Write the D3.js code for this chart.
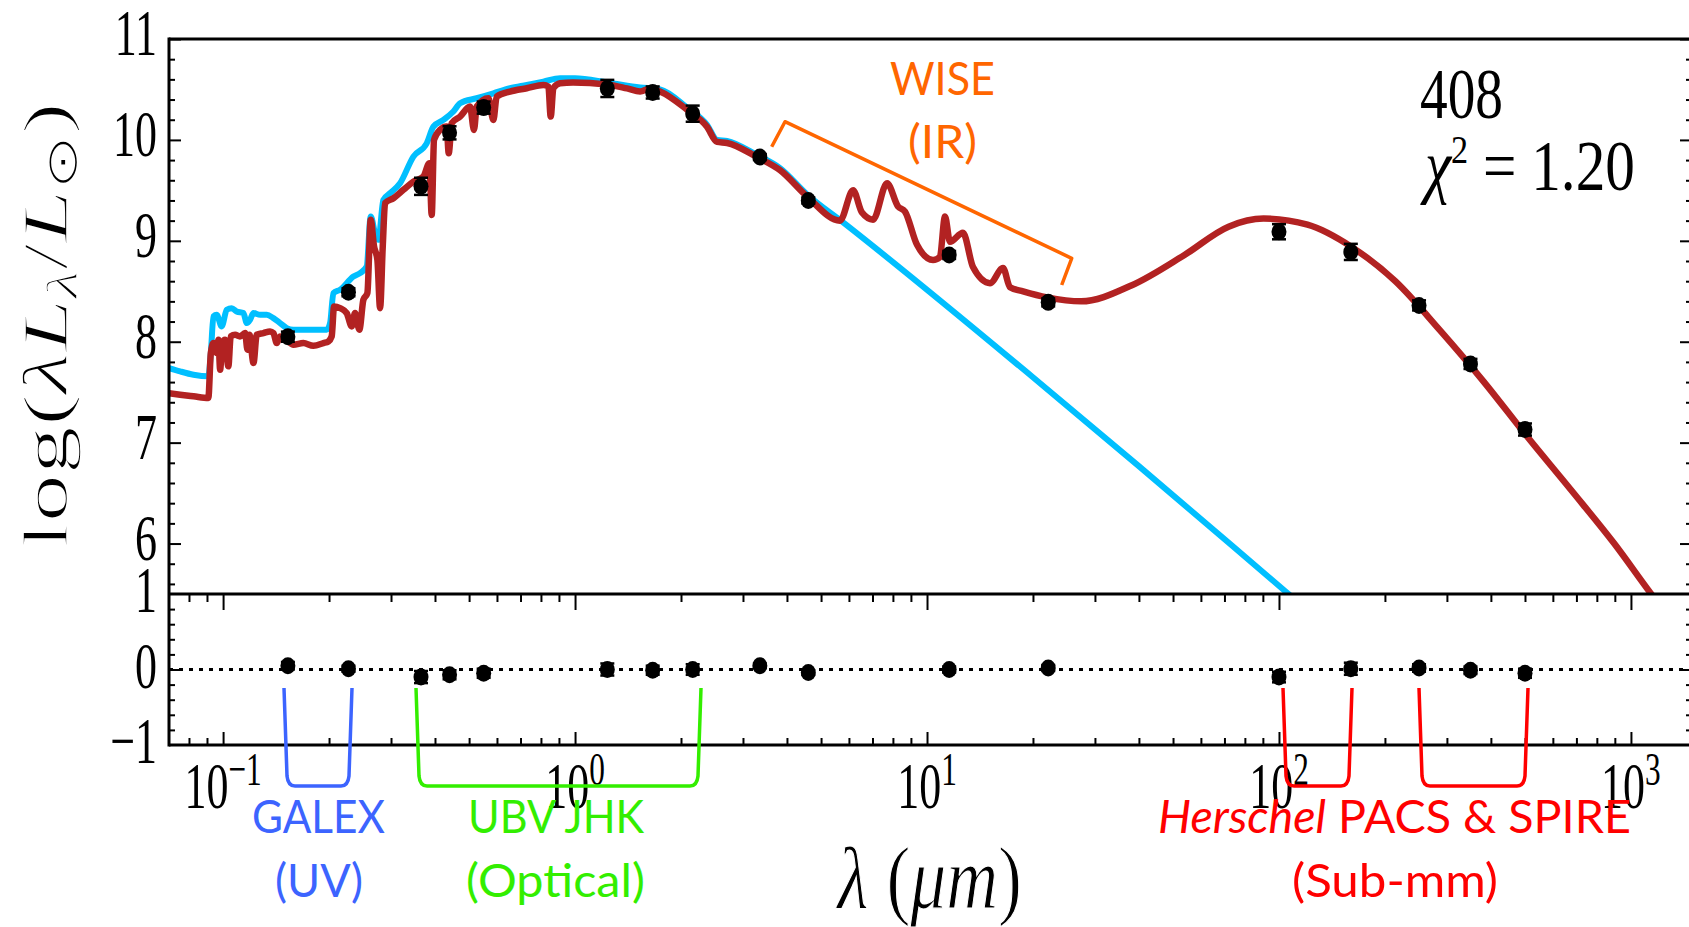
<!DOCTYPE html>
<html><head><meta charset="utf-8">
<script src="https://cdn.jsdelivr.net/npm/d3@7"></script>
<style>html,body{margin:0;padding:0;background:#fff;overflow:hidden}</style>
</head><body><svg id="c" width="1689" height="927" xmlns="http://www.w3.org/2000/svg"></svg>
<script>
// ---------------- DATA ----------------
const bands = ["FUV","NUV","U","B","V","J","H","Ks","W1","W2","W3","W4","PACS100","PACS160","SPIRE250","SPIRE350","SPIRE500"];
const bandWave = [0.1528,0.2271,0.365,0.44,0.55,1.235,1.662,2.159,3.35,4.6,11.56,22.1,100,160,250,350,500];
const obsLum   = [8.05,8.49,9.54,10.07,10.32,10.51,10.47,10.26,9.83,9.40,8.86,8.39,9.09,8.89,8.36,7.78,7.13];
const obsErr   = [0.05,0.04,0.085,0.065,0.06,0.085,0.06,0.08,0.03,0.03,0.04,0.04,0.075,0.08,0.05,0.05,0.06];
const residual = [0.05,0.01,-0.10,-0.07,-0.05,0.0,-0.01,0.0,0.05,-0.04,0.0,0.02,-0.10,0.01,0.02,-0.01,-0.05];
const resErr   = [0.05,0.04,0.08,0.06,0.06,0.08,0.06,0.07,0.03,0.03,0.04,0.04,0.07,0.08,0.05,0.05,0.06];

// total model (stars + dust), wavelength in micron, log(lambda L_lambda / Lsun)
const modelWave = [0.0702,0.0755,0.0824,0.0908,0.0923,0.0939,0.0959,0.0970,0.0981,0.0994,0.1013,0.1035,0.1051,0.1082,0.1117,0.1155,0.1173,0.1188,0.1220,0.1246,0.1302,0.1360,0.1390,0.1421,0.1452,0.1517,0.1584,0.1691,0.1805,0.1928,0.1991,0.2035,0.2067,0.2150,0.2245,0.2320,0.2371,0.2439,0.2504,0.2570,0.2627,0.2685,0.2744,0.2793,0.2842,0.2886,0.3047,0.3253,0.3473,0.3708,0.3857,0.3915,0.3975,0.4134,0.4318,0.4376,0.4462,0.4713,0.5031,0.5163,0.5254,0.5672,0.5861,0.5989,0.6536,0.7291,0.8128,0.8400,0.8528,0.8677,0.9066,0.987,1.233,1.405,1.530,1.634,1.744,2.080,2.371,2.532,2.703,3.289,3.823,4.561,5.658,6.164,6.535,7.025,7.699,8.273,8.659,9.367,10.40,10.88,11.25,11.62,12.65,13.51,15.10,16.44,17.21,18.75,21.93,27.4,38.2,53.9,71.9,90.4,120.5,160.7,214,285.6,380.5,507,676,901,1136,1250];
const modelLum  = [7.49,7.475,7.459,7.442,7.888,7.987,7.888,8.020,7.723,7.987,8.020,7.756,8.053,8.069,8.053,8.086,7.921,8.069,7.789,8.069,8.086,8.102,8.086,7.987,8.053,8.020,7.970,7.987,7.960,7.987,8.003,8.053,8.350,8.333,8.284,8.152,8.284,8.119,8.416,8.482,9.208,8.944,8.812,8.333,8.944,9.373,9.422,9.505,9.587,9.637,9.769,9.257,10.0,10.099,10.132,9.868,10.165,10.231,10.330,10.099,10.330,10.413,10.198,10.429,10.479,10.512,10.545,10.528,10.231,10.512,10.561,10.57,10.55,10.51,10.48,10.51,10.48,10.30,10.13,9.98,9.97,9.83,9.70,9.44,9.20,9.50,9.28,9.21,9.57,9.34,9.29,8.96,8.81,8.84,9.24,8.99,9.08,8.74,8.58,8.73,8.54,8.50,8.44,8.40,8.56,8.86,9.14,9.22,9.16,8.94,8.60,8.12,7.61,7.06,6.53,5.99,5.51,5.32];

// unattenuated / stellar-only model
const starWave = [0.0702,0.0755,0.0824,0.0908,0.0923,0.0939,0.0959,0.0991,0.1024,0.1058,0.1093,0.1142,0.1168,0.1193,0.1220,0.1274,0.1331,0.1390,0.1452,0.1517,0.1584,0.1767,0.1970,0.2014,0.2058,0.2150,0.2346,0.2450,0.2559,0.2627,0.2703,0.2762,0.2854,0.2981,0.3183,0.3473,0.3790,0.3958,0.4224,0.4511,0.4713,0.5254,0.5861,0.6536,0.7291,0.8128,0.9066,1.0,1.233,1.530,1.744,2.080,2.371,2.532,2.703,3.289,3.823,4.561,5.74,19.8,39.9,104,115];
const starLum  = [7.739,7.706,7.673,7.657,7.888,8.251,8.267,8.152,8.317,8.333,8.300,8.284,8.185,8.218,8.284,8.267,8.267,8.234,8.185,8.135,8.119,8.119,8.119,8.185,8.482,8.515,8.647,8.680,8.746,9.241,9.076,9.010,9.406,9.472,9.571,9.835,9.967,10.132,10.198,10.281,10.363,10.413,10.462,10.512,10.545,10.578,10.611,10.61,10.57,10.52,10.50,10.32,10.15,10.00,9.99,9.85,9.72,9.46,9.19,7.66,6.77,5.53,5.40];

const mainYTicks = [6,7,8,9,10,11];
const mainYTickLabels = ["6","7","8","9","10","11"];
const resYTicks = [-1,0,1];
const resYTickLabels = ["\u22121","0","1"];
const xTickValues = [0.1,1,10,100,1000];
const xTickExps = ["\u22121","0","1","2","3"];

const galaxyId = "408";
const chi2Text = "1.20";

// ---------------- LAYOUT ----------------
const L = 169, R = 1692, TOP = 39, SPLIT = 594, BOT = 745;
const x = d3.scaleLog().domain([0.0702, 1491]).range([L, R]);
const y = d3.scaleLinear().domain([5.5, 11]).range([SPLIT, TOP]);
const yr = d3.scaleLinear().domain([-1, 1]).range([BOT, SPLIT]);

const serif = "'Liberation Serif','Times New Roman',serif";
const sans = "Lato,'Open Sans',sans-serif";
const svg = d3.select('#c');
const defs = svg.append('defs');
defs.append('clipPath').attr('id','clipMain').append('rect')
  .attr('x', L).attr('y', TOP).attr('width', R - L).attr('height', SPLIT - TOP);

// ---- curves ----
const line = d3.line().x(d => x(d[0])).y(d => y(d[1])).curve(d3.curveMonotoneX);
const starData = starWave.map((w,i)=>[w, starLum[i]]);
const modelData = modelWave.map((w,i)=>[w, modelLum[i]]);
const gc = svg.append('g').attr('clip-path','url(#clipMain)');
gc.append('path').datum(starData).attr('d', line).attr('fill','none')
  .attr('stroke','#00bfff').attr('stroke-width',6).attr('stroke-linejoin','round');
gc.append('path').datum(modelData).attr('d', line).attr('fill','none')
  .attr('stroke','#b22222').attr('stroke-width',6.5).attr('stroke-linejoin','round');

// ---- observed points ----
const obs = bandWave.map((w,i)=>({w, v:obsLum[i], e:obsErr[i], r:residual[i], re:resErr[i]}));
const gp = svg.append('g');
function errBars(g, data, yScale, valKey, errKey){
  data.forEach(d=>{
    const cx = x(d.w), y1 = yScale(d[valKey]-d[errKey]), y2 = yScale(d[valKey]+d[errKey]);
    g.append('line').attr('x1',cx).attr('x2',cx).attr('y1',y1).attr('y2',y2).attr('stroke','#000').attr('stroke-width',2.5);
    [y1,y2].forEach(yy=>g.append('line').attr('x1',cx-7).attr('x2',cx+7).attr('y1',yy).attr('y2',yy).attr('stroke','#000').attr('stroke-width',2.5));
  });
  g.selectAll(null).data(data).enter().append('ellipse')
    .attr('cx', d=>x(d.w)).attr('cy', d=>yScale(d[valKey])).attr('rx',7.5).attr('ry',8.5).attr('fill','#000');
}
errBars(gp, obs, y, 'v', 'e');

// ---- residual zero line ----
svg.append('line').attr('x1',L).attr('x2',R).attr('y1',yr(0)).attr('y2',yr(0))
  .attr('stroke','#000').attr('stroke-width',3).attr('stroke-dasharray','4,6');
errBars(svg.append('g'), obs, yr, 'r', 're');

// ---- axes (ticks via d3 axes) ----
const xAll = x.ticks();
const xMajor = xAll.filter(t => Math.abs(Math.log10(t) - Math.round(Math.log10(t))) < 1e-9);
const xMinor = xAll.filter(t => !xMajor.includes(t));
function ax(axisFn, scale, vals, size, tr){
  const g = svg.append('g').attr('transform', tr)
    .call(axisFn(scale).tickValues(vals).tickSize(size).tickFormat(''));
  g.select('.domain').remove();
  g.selectAll('line').attr('stroke','#000').attr('stroke-width',2);
  g.selectAll('text').remove();
}
const yMinor = d3.range(56, 110, 2).map(v=>v/10).filter(v=>!mainYTicks.includes(v));
const rMinor = d3.range(-8, 10, 2).map(v=>v/10).filter(v=>!resYTicks.includes(v));
ax(d3.axisRight, y, mainYTicks, 12, `translate(${L},0)`);
ax(d3.axisRight, y, yMinor, 6, `translate(${L},0)`);
ax(d3.axisLeft, y, mainYTicks, 12, `translate(${R},0)`);
ax(d3.axisLeft, y, yMinor, 6, `translate(${R},0)`);
ax(d3.axisRight, yr, [0], 13, `translate(${L},0)`);
ax(d3.axisRight, yr, rMinor, 6, `translate(${L},0)`);
ax(d3.axisLeft, yr, [0], 13, `translate(${R},0)`);
ax(d3.axisLeft, yr, rMinor, 6, `translate(${R},0)`);
ax(d3.axisTop, x, xMajor, 13, `translate(0,${BOT})`);
ax(d3.axisTop, x, xMinor, 7, `translate(0,${BOT})`);
ax(d3.axisBottom, x, xMajor, 16, `translate(0,${SPLIT})`);
ax(d3.axisBottom, x, xMinor, 8, `translate(0,${SPLIT})`);

// frame
const frame = svg.append('g').attr('stroke','#000').attr('stroke-width',3).attr('fill','none');
frame.append('line').attr('x1',L).attr('x2',R+2).attr('y1',TOP).attr('y2',TOP);
frame.append('line').attr('x1',L).attr('x2',R+2).attr('y1',SPLIT).attr('y2',SPLIT);
frame.append('line').attr('x1',L).attr('x2',R+2).attr('y1',BOT).attr('y2',BOT);
frame.append('line').attr('x1',L).attr('x2',L).attr('y1',TOP-1.5).attr('y2',BOT+1.5);
frame.append('line').attr('x1',R).attr('x2',R).attr('y1',TOP).attr('y2',BOT);

// ---- text helpers ----
function fitText(x0, x1, baseline, opts, build){
  const g = svg.append('g');
  const t = g.append('text').attr('x',0).attr('y',0)
    .style('font-family', opts.family).style('font-size', opts.size+'px')
    .attr('fill', opts.fill || '#000');
  if (opts.italic) t.style('font-style','italic');
  if (opts.thin) t.attr('stroke','#fff').attr('stroke-width',opts.thin);
  build(t);
  const bb = t.node().getBBox();
  const s = (x1 - x0) / bb.width;
  t.attr('transform', `translate(${-bb.x*s},0) scale(${s},1)`);
  g.attr('transform', `translate(${x0},${baseline})`);
  return g;
}
// tick label horizontal compression
const probe = svg.append('text').style('font-family',serif).style('font-size','66px').text('10');
const tsx = 44 / probe.node().getBBox().width;
probe.remove();
function tickText(xx, yy, anchor, build){
  const g = svg.append('g').attr('transform',`translate(${xx},${yy}) scale(${tsx},1)`);
  const t = g.append('text').attr('text-anchor',anchor).style('font-family',serif).style('font-size','66px').attr('fill','#000');
  build(t);
}
mainYTicks.forEach((v,i)=> tickText(157, y(v)+16, 'end', t=>t.text(mainYTickLabels[i])));
resYTicks.forEach((v,i)=> tickText(157, yr(v)+18, 'end', t=>t.text(resYTickLabels[i])));
xTickValues.forEach((v,i)=> tickText(x(v), 808, 'middle', t=>{
  t.append('tspan').text('10');
  t.append('tspan').attr('dy',-23).style('font-size','47px').text(xTickExps[i]);
}));

// axis titles
(function(){
  const g = svg.append('g').attr('transform','translate(67,549) rotate(-90)');
  const t = g.append('text').style('font-family',serif).style('font-size','64px').attr('fill','#000')
    .attr('stroke','#fff').attr('stroke-width',1.6);
  t.append('tspan').text('log(');
  t.append('tspan').style('font-style','italic').text('\u03BBL');
  t.append('tspan').style('font-style','italic').style('font-size','44px').attr('dy',10).text('\u03BB');
  t.append('tspan').attr('dy',-10).text('/');
  t.append('tspan').style('font-style','italic').text('L');
  t.append('tspan').style('font-size','44px').attr('dy',10).text('\u2299');
  t.append('tspan').attr('dy',-10).text(')');
  const bb = t.node().getBBox();
  const s = 447 / bb.width;
  t.attr('transform', `translate(${-bb.x*s},0) scale(${s},1)`);
})();
fitText(835, 1022, 908, {family:serif, size:88, thin:1.2}, t=>{
  t.append('tspan').style('font-style','italic').text('\u03BB');
  t.append('tspan').text(' (');
  t.append('tspan').style('font-style','italic').text('\u03BCm');
  t.append('tspan').text(')');
});

// id & chi2
fitText(1420, 1503, 118, {family:serif, size:71}, t=>t.text(galaxyId));
fitText(1420, 1635, 190, {family:serif, size:71}, t=>{
  t.append('tspan').style('font-style','italic').text('\u03C7');
  t.append('tspan').attr('dy',-27).style('font-size','41px').text('2');
  t.append('tspan').attr('dy',27).text(' = ' + chi2Text);
});

// ---- annotations ----
const ann = svg.append('g').attr('fill','none').attr('stroke-width',3.5).attr('stroke-linejoin','round');
const cBlue = '#3c64ff', cGreen = '#33ee00', cOrange = '#ff6600', cRed = '#ff0000';
function bracket(xl, xr, color){
  const top = 688, bot = 786;
  ann.append('path').attr('stroke', color)
    .attr('d', `M${xl},${top} L${xl+3},${bot-10} Q${xl+4},${bot} ${xl+11},${bot} L${xr-11},${bot} Q${xr-4},${bot} ${xr-3},${bot-10} L${xr},${top}`);
}
bracket(284, 352, cBlue);
bracket(416, 701, cGreen);
bracket(1283, 1352, cRed);
bracket(1419, 1528, cRed);
ann.append('path').attr('stroke', cOrange).attr('d','M771.7,146.7 L785,121.7 L1071.7,258.3 L1061.7,285');

fitText(890, 995, 95, {family:sans, size:47, fill:cOrange}, t=>t.text('WISE'));
fitText(908, 977, 158, {family:sans, size:47, fill:cOrange}, t=>t.text('(IR)'));
fitText(252, 385, 833, {family:sans, size:47, fill:cBlue}, t=>t.text('GALEX'));
fitText(275, 363, 897, {family:sans, size:47, fill:cBlue}, t=>t.text('(UV)'));
fitText(468, 645, 833, {family:sans, size:47, fill:cGreen}, t=>t.text('UBV JHK'));
fitText(466, 645, 897, {family:sans, size:47, fill:cGreen}, t=>t.text('(Optical)'));
fitText(1158, 1631, 833, {family:sans, size:47, fill:cRed}, t=>{
  t.append('tspan').style('font-style','italic').text('Herschel');
  t.append('tspan').text(' PACS & SPIRE');
});
fitText(1292, 1498, 897, {family:sans, size:47, fill:cRed}, t=>t.text('(Sub-mm)'));
</script></body></html>
